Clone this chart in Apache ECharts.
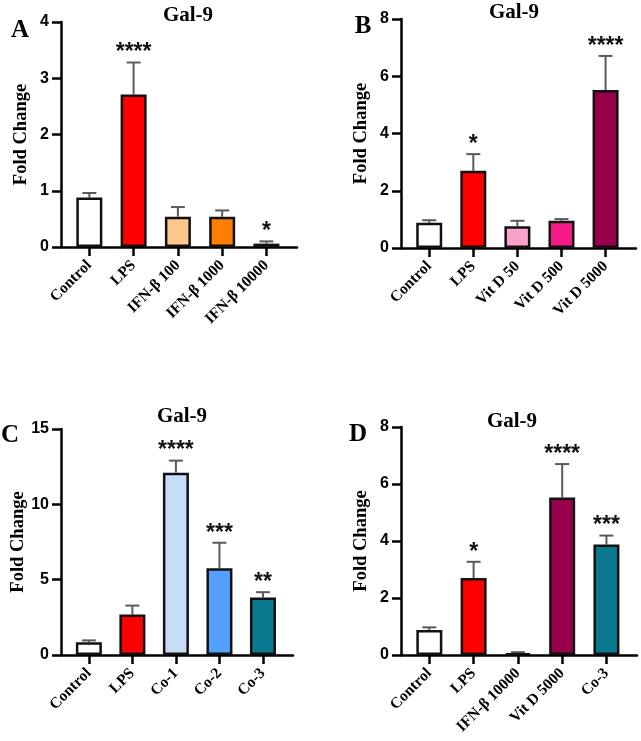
<!DOCTYPE html>
<html>
<head>
<meta charset="utf-8">
<script src="https://cdn.jsdelivr.net/npm/echarts@6/dist/echarts.min.js"></script>
<style>
html, body { margin: 0; padding: 0; background: #fff; }
#chart { width: 641px; height: 741px; }
</style>
</head>
<body>
<div id="chart"></div>
<script>
// panel A
var catsA = ['Control', 'LPS', 'IFN-β 100', 'IFN-β 1000', 'IFN-β 10000'];
var meanA = [0.88, 2.71, 0.54, 0.54, 0.06];
var errA = [0.08, 0.57, 0.17, 0.11, 0.04];
var starsA = ['', '****', '', '', '*'];
var colorsA = ['#ffffff', '#ff0000', '#ffc68e', '#ff8000', '#d9630f'];

// panel B
var catsB = ['Control', 'LPS', 'Vit D 50', 'Vit D 500', 'Vit D 5000'];
var meanB = [0.88, 2.70, 0.76, 0.95, 5.52];
var errB = [0.09, 0.58, 0.19, 0.06, 1.19];
var starsB = ['', '*', '', '', '****'];
var colorsB = ['#ffffff', '#ff0000', '#f9a3cb', '#f41b86', '#99004c'];

// panel C
var catsC = ['Control', 'LPS', 'Co-1', 'Co-2', 'Co-3'];
var meanC = [0.85, 2.68, 12.1, 5.75, 3.82];
var errC = [0.12, 0.60, 0.80, 1.70, 0.35];
var starsC = ['', '', '****', '***', '**'];
var colorsC = ['#ffffff', '#ff0000', '#c7dcf6', '#55a0ff', '#0a788e'];

// panel D
var catsD = ['Control', 'LPS', 'IFN-β 10000', 'Vit D 5000', 'Co-3'];
var meanD = [0.88, 2.70, 0.06, 5.53, 3.88];
var errD = [0.09, 0.57, 0.04, 1.17, 0.31];
var starsD = ['', '*', '', '****', '***'];
var colorsD = ['#ffffff', '#ff0000', '#d9630f', '#99004c', '#0a788e'];

var yMax = [4, 8, 15, 8];
var yStep = [1, 2, 5, 2];

var panels = [
	{ cats: catsA, mean: meanA, err: errA, stars: starsA, colors: colorsA },
	{ cats: catsB, mean: meanB, err: errB, stars: starsB, colors: colorsB },
	{ cats: catsC, mean: meanC, err: errC, stars: starsC, colors: colorsC },
	{ cats: catsD, mean: meanD, err: errD, stars: starsD, colors: colorsD }
];

var grids = [
	{ left: 61, top: 22, width: 236, height: 225 },
	{ left: 401, top: 19, width: 235, height: 229 },
	{ left: 61, top: 429, width: 232, height: 226 },
	{ left: 401, top: 427, width: 236, height: 228 }
];

var serif = '"Liberation Serif", "Times New Roman", serif';
var sans = '"Liberation Sans", Arial, sans-serif';

var xAxes = [], yAxes = [], series = [];

panels.forEach(function(p, k) {
	xAxes.push({
		type: 'value',
		gridIndex: k,
		min: -0.64,
		max: 4.69,
		splitLine: { show: false },
		axisLine: { onZero: false, lineStyle: { color: '#000', width: 2.5 } },
		axisTick: { show: true, length: 9, lineStyle: { color: '#000', width: 2.5 }, customValues: [0, 1, 2, 3, 4] },
		axisLabel: {
			customValues: [0, 1, 2, 3, 4],
			rotate: 45,
			margin: 16,
			color: '#000',
			fontFamily: serif,
			fontWeight: 'bold',
			fontSize: 15.5,
			formatter: function(v) { return p.cats[Math.round(v)] || ''; }
		}
	});
	yAxes.push({
		type: 'value',
		gridIndex: k,
		min: 0,
		max: yMax[k],
		interval: yStep[k],
		name: 'Fold Change',
		nameLocation: 'middle',
		nameRotate: 90,
		nameGap: 30,
		nameTextStyle: { color: '#000', fontFamily: serif, fontWeight: 'bold', fontSize: 18.5 },
		splitLine: { show: false },
		axisLine: { show: true, onZero: false, lineStyle: { color: '#000', width: 2.5 } },
		axisTick: { show: true, length: 9, lineStyle: { color: '#000', width: 2.5 } },
		axisLabel: { color: '#000', fontFamily: sans, fontWeight: 'bold', fontSize: 16, margin: 12 }
	});
	series.push({
		type: 'bar',
		xAxisIndex: k,
		yAxisIndex: k,
		barWidth: 26,
		data: p.mean.map(function(v, i) {
			return { value: [i, v], itemStyle: { color: p.colors[i] } };
		}),
		itemStyle: { borderColor: '#111', borderWidth: 2.5 },
		z: 2
	});
	series.push({
		type: 'custom',
		xAxisIndex: k,
		yAxisIndex: k,
		data: p.mean.map(function(v, i) { return [i, v, p.err[i]]; }),
		renderItem: function(params, api) {
			var x = api.value(0), m = api.value(1), e = api.value(2);
			var p0 = api.coord([x, m]);
			var p1 = api.coord([x, m + e]);
			var star = p.stars[params.dataIndex];
			var kids = [
				{ type: 'line', shape: { x1: p0[0], y1: p0[1], x2: p1[0], y2: p1[1] },
					style: { stroke: '#5a5a5a', lineWidth: 2 } },
				{ type: 'line', shape: { x1: p1[0] - 7, y1: p1[1], x2: p1[0] + 7, y2: p1[1] },
					style: { stroke: '#5a5a5a', lineWidth: 2 } }
			];
			if (star) {
				kids.push({ type: 'text', x: p1[0], y: p1[1] + 2,
					style: { text: star, font: 'bold 23px ' + sans, fill: '#111',
						textAlign: 'center', textVerticalAlign: 'bottom' } });
			}
			return { type: 'group', children: kids };
		},
		z: 1
	});
});

function label(txt, x, y, size) {
	return { type: 'text', x: x, y: y,
		style: { text: txt, font: 'bold ' + size + 'px ' + serif, fill: '#000',
			textAlign: 'center', textVerticalAlign: 'middle' } };
}

var option = {
	animation: false,
	backgroundColor: '#fff',
	grid: grids,
	xAxis: xAxes,
	yAxis: yAxes,
	series: series,
	graphic: [
		label('Gal-9', 188, 16, 21),
		label('Gal-9', 514, 13, 21),
		label('Gal-9', 182, 417, 21),
		label('Gal-9', 512, 422, 21),
		label('A', 20, 31, 25),
		label('B', 363, 27, 25),
		label('C', 10, 436, 25),
		label('D', 358, 435, 25)
	]
};

var myChart = echarts.init(document.getElementById('chart'));
myChart.setOption(option);
</script>
</body>
</html>
